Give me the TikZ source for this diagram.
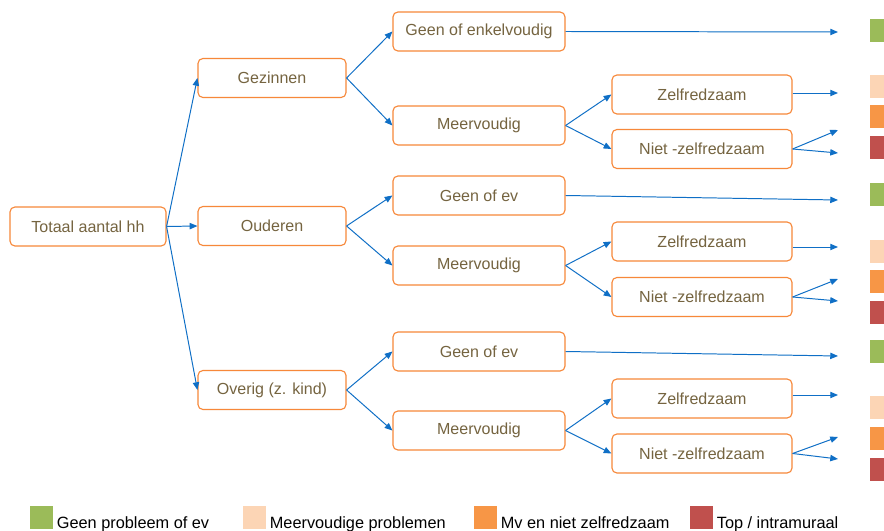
\documentclass[tikz,border=0pt]{standalone}
\usepackage{fontspec}
\setmainfont{Liberation Sans}
\usetikzlibrary{arrows.meta}
\definecolor{BoxOrange}{HTML}{F7883A}
\definecolor{TxtOlive}{HTML}{756440}
\definecolor{LinkBlue}{HTML}{0F6FC6}
\definecolor{LegGreen}{HTML}{9BBB59}
\definecolor{LegPeach}{HTML}{FCD5B5}
\definecolor{LegOrange}{HTML}{F79646}
\definecolor{LegRed}{HTML}{C0504D}

\tikzset{
  hhbox/.style={draw=BoxOrange, line width=0.8pt, rounded corners=3.5pt, text=TxtOlive,
    font=\fontsize{11.4}{13}\selectfont, minimum height=0.975cm, inner sep=0pt},
  link/.style={draw=LinkBlue, line width=0.7pt, -{Triangle[length=5.5pt,width=4.5pt]}},
  legsq/.style={fill=#1, minimum size=0.575cm, inner sep=0pt, anchor=south west},
}

\begin{document}
\begin{tikzpicture}[x=0.025cm,y=-0.025cm]
\fill[white] (0,0) rectangle (884,531);
\useasboundingbox (0,0) rectangle (884,531);

\node[hhbox, minimum width=3.9cm] (tot) at (88,226.5) {Totaal aantal hh};

% one group per household type
\foreach \i/\cat/\caty/\geenlbl/\geeny/\meery/\zelfy/\niety/\ge/\ze/\na/\nb in {
    1/Gezinnen/78/{Geen of enkelvoudig}/31.5/125.5/94.5/149/32/93/130/153,
    2/Ouderen/226/{Geen of ev}/195.5/265.5/241.5/297/200/247/279/301,
    3/{Overig (z. kind)}/390/{Geen of ev}/351.5/430.5/398.5/453.5/356/395/437/459} {
  \node[hhbox, minimum width=3.7cm] (cat\i) at (272,\caty) {\cat};
  \node[hhbox, minimum width=4.3cm] (geen\i) at (479,\geeny) {\geenlbl};
  \node[hhbox, minimum width=4.3cm] (meer\i) at (479,\meery) {Meervoudig};
  \node[hhbox, minimum width=4.5cm] (zelf\i) at (702,\zelfy) {Zelfredzaam};
  \node[hhbox, minimum width=4.5cm] (niet\i) at (702,\niety) {Niet -zelfredzaam};
  \coordinate (ge\i) at (838,\ge);
  \coordinate (ze\i) at (838,\ze);
  \coordinate (na\i) at (838,\na);
  \coordinate (nb\i) at (838,\nb);

  \draw[link] (tot.east) -- (cat\i.west);
  \draw[link] (cat\i.east) -- (geen\i.west);
  \draw[link] (cat\i.east) -- (meer\i.west);
  \draw[link] (meer\i.east) -- (zelf\i.west);
  \draw[link] (meer\i.east) -- (niet\i.west);
  \draw[link] (geen\i.east) -- (ge\i);
  \draw[link] (zelf\i.east |- ze\i) -- (ze\i);
  \draw[link] (niet\i.east) -- (na\i);
  \draw[link] (niet\i.east) -- (nb\i);
}

% outcome squares at the right edge
\foreach \sqc/\sqy in {LegGreen/19, LegPeach/75, LegOrange/105, LegRed/136,
    LegGreen/183, LegPeach/240, LegOrange/270, LegRed/301,
    LegGreen/340, LegPeach/396, LegOrange/427, LegRed/458}
  \fill[\sqc] (870,\sqy) rectangle (884,\sqy+23);

% legend
\foreach \k/\lc/\lx/\ltxt in {1/LegGreen/30/{Geen probleem of ev}, 2/LegPeach/243/{Meervoudige problemen},
    3/LegOrange/474/{Mv en niet zelfredzaam}, 4/LegRed/690/{Top / intramuraal}} {
  \node[legsq=\lc] (leg\k) at (\lx,529) {};
  \node[anchor=base west, inner sep=0pt, font=\fontsize{11.6}{13}\selectfont]
    (legt\k) at ([xshift=0.075cm]leg\k.south east) {\ltxt};
}
\end{tikzpicture}
\end{document}
